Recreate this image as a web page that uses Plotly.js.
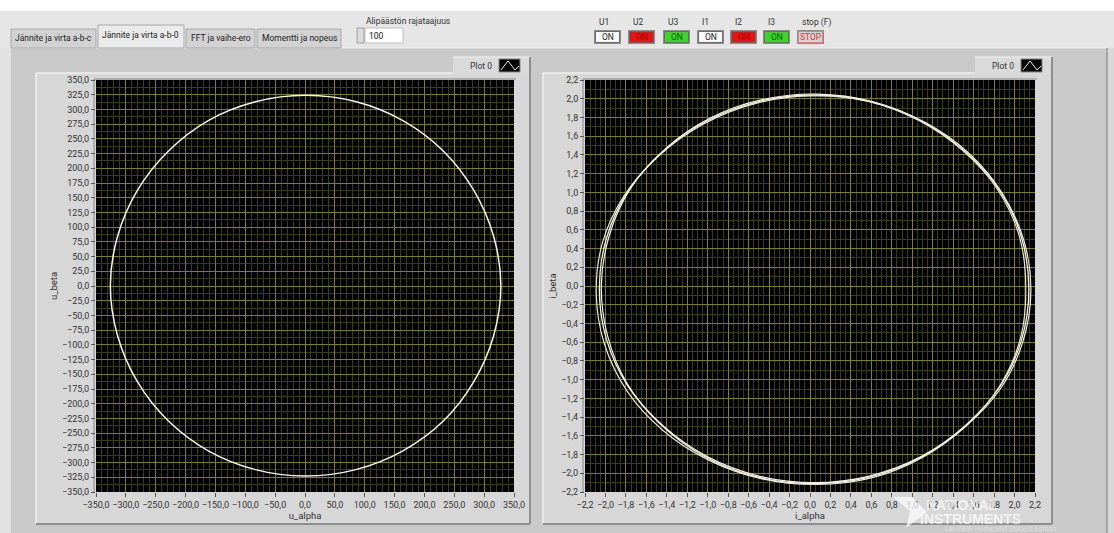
<!DOCTYPE html>
<html>
<head>
<meta charset="utf-8">
<script src="https://cdn.plot.ly/plotly-3.0.1.min.js"></script>
<style>
html,body{margin:0;padding:0;background:#c9c9c9;}
#chart{width:1114px;height:533px;}
</style>
</head>
<body>
<div id="chart"></div>
<script>
// ---------- DATA ----------
// Left graph: u_alpha / u_beta (one closed loop)
var u_alpha = [328, 316, 283, 232, 164, 86, 1, -83, -162, -229, -281, -314, -326, -314, -281, -229, -162, -83, 1, 85, 164, 232, 283, 316, 328];
var u_beta  = [0, 84, 162, 229, 281, 313, 324, 313, 281, 229, 162, 84, 0, -84, -162, -229, -280, -312, -323, -312, -280, -229, -162, -84, 0];

// Right graph: i_alpha / i_beta (several slightly different loops)
var i_alpha_1 = [2.14, 2.07, 1.86, 1.52, 1.09, 0.58, 0.04, -0.50, -1.01, -1.44, -1.78, -1.99, -2.06, -1.99, -1.78, -1.44, -1.01, -0.50, 0.04, 0.58, 1.09, 1.52, 1.86, 2.07, 2.14];
var i_beta_1  = [-0.03, 0.51, 1.01, 1.43, 1.76, 1.97, 2.04, 1.97, 1.76, 1.43, 1.01, 0.51, -0.03, -0.57, -1.07, -1.49, -1.82, -2.03, -2.10, -2.03, -1.82, -1.49, -1.07, -0.57, -0.03];
var i_alpha_2 = [2.11, 2.05, 1.84, 1.50, 1.06, 0.55, 0.01, -0.53, -1.04, -1.48, -1.82, -2.03, -2.09, -2.01, -1.79, -1.44, -0.99, -0.47, 0.07, 0.60, 1.10, 1.53, 1.86, 2.06, 2.11];
var i_beta_2  = [-0.02, 0.52, 1.02, 1.44, 1.77, 1.98, 2.03, 1.95, 1.73, 1.39, 0.96, 0.46, -0.08, -0.62, -1.12, -1.54, -1.86, -2.06, -2.12, -2.05, -1.83, -1.49, -1.06, -0.55, -0.02];
var i_alpha_3 = [2.16, 2.09, 1.88, 1.55, 1.12, 0.61, 0.07, -0.47, -0.98, -1.41, -1.75, -1.96, -2.04, -1.98, -1.79, -1.47, -1.05, -0.55, 0.00, 0.55, 1.07, 1.51, 1.86, 2.08, 2.16];
var i_beta_3  = [-0.05, 0.49, 0.99, 1.42, 1.75, 1.97, 2.05, 1.99, 1.79, 1.47, 1.05, 0.55, 0.01, -0.53, -1.04, -1.47, -1.81, -2.03, -2.11, -2.05, -1.84, -1.51, -1.10, -0.60, -0.05];

// UI texts
var tabLabels = ["Jännite ja virta a-b-c", "Jännite ja virta a-b-0", "FFT ja vaihe-ero", "Momentti ja nopeus"];
var buttonLabels = ["U1", "U2", "U3", "I1", "I2", "I3", "stop (F)"];
var buttonTexts = ["ON", "ON", "ON", "ON", "ON", "ON", "STOP"];
var filterLabel = "Alipäästön rajataajuus";
var filterValue = "100";
var legendName = "Plot 0";
var watermark = ["NATIONAL", "INSTRUMENTS", "LabVIEW Home and Student Edition"];

// ---------- LAYOUT HELPERS ----------
var W = 1114, H = 533;
var FONT = 'Roboto, Noto Sans, sans-serif';
function px(x){return x / W;}
function py(y){return 1 - y / H;}
var shapes = [], annotations = [];
function rect(x0, y0, x1, y1, fill, lc, lw){
  shapes.push({type:'rect', xref:'paper', yref:'paper', x0:px(x0), x1:px(x1), y0:py(y1), y1:py(y0),
    fillcolor:fill, line:{color:lc || fill, width: lw === undefined ? (lc ? 1 : 0) : lw}, layer:'below'});
}
function seg(x0, y0, x1, y1, c, w, layer){
  shapes.push({type:'line', xref:'paper', yref:'paper', x0:px(x0), x1:px(x1), y0:py(y0), y1:py(y1),
    line:{color:c, width:w || 1}, layer: layer || 'below'});
}
function text(x, y, t, size, color, anchor, fam){
  annotations.push({xref:'paper', yref:'paper', x:px(x), y:py(y), text:t, showarrow:false,
    xanchor:anchor || 'center', yanchor:'middle',
    font:{family:fam || FONT, size:size || 10, color:color || '#333'}});
}

// background regions
rect(0, 0, 1114, 11, '#ffffff');
rect(0, 11, 1114, 48, '#e6e6e6');
rect(0, 48, 11, 533, '#e2e2e2');
rect(11, 48, 1107, 533, '#c9c9c9');
rect(1107, 48, 1114, 533, '#d8d8d8');
seg(11, 48, 1107, 48, '#f0f0f0', 1);
seg(1107, 48, 1107, 533, '#9a9a9a', 1.5);

// tabs
var tabX = [10, 97, 185, 256, 342];
for (var i = 0; i < tabLabels.length; i++){
  var sel = (i === 1);
  rect(tabX[i] + 1, sel ? 25 : 29, tabX[i + 1] - 1, 48, sel ? '#ebebeb' : '#d2d2d2', '#a8a8a8', 1);
  text((tabX[i] + tabX[i + 1]) / 2, sel ? 35 : 38, tabLabels[i], 8.5, '#222');
}

// filter control
text(408, 21, filterLabel, 8.5, '#333');
rect(365, 28, 403, 43, '#ffffff', '#c0c0c0', 1);
rect(357, 28, 364, 43, '#dcdcdc', '#a0a0a0', 1);
text(367, 36, filterValue, 8.5, '#111', 'left');

// boolean buttons
var btnX = [594, 628, 663, 697, 730, 763, 797];
var btnFill = ['#f8f8f8', '#e51414', '#3bd62a', '#f8f8f8', '#e51414', '#3bd62a', '#d4d4d4'];
var btnTxtColor = ['#222', '#a00000', '#0b5a05', '#222', '#a00000', '#0b5a05', '#e03030'];
for (var b = 0; b < buttonLabels.length; b++){
  var x0 = btnX[b];
  text(x0 + 3, 22, buttonLabels[b], 8.5, '#333', 'left');
  rect(x0, 30, x0 + 27, 44, '#8c8c8c');
  rect(x0 + 1.5, 31.5, x0 + 25.5, 42.5, btnFill[b], b === 6 ? '#e08080' : '#6a6a6a', 1);
  text(x0 + 13.5, 37, buttonTexts[b], 8.5, btnTxtColor[b]);
}

// chart panels
function panel(x0, x1, plotX0, plotX1, legX0, legX1){
  rect(x0, 73, x1, 524, '#d7d7d7');
  seg(x0, 73, x1, 73, '#efefef', 1.5);
  seg(x0, 73, x0, 524, '#efefef', 1.5);
  seg(x1, 73, x1, 524, '#8e8e8e', 2);
  seg(x0, 524, x1, 524, '#8e8e8e', 2);
  // legend box
  rect(legX0, 57, legX1, 74, '#dadada');
  seg(legX0, 57, legX1, 57, '#f2f2f2', 1);
  seg(legX1, 57, legX1, 74, '#8e8e8e', 2);
  text(legX0 + 28, 66, legendName, 8.5, '#333');
  rect(legX1 - 31, 59, legX1 - 10, 72, '#050505', '#888', 1);
  shapes.push({type:'path', xref:'paper', yref:'paper', layer:'above',
    path:'M ' + px(legX1 - 29) + ',' + py(70) + ' L ' + px(legX1 - 22) + ',' + py(61) +
         ' L ' + px(legX1 - 15) + ',' + py(70) + ' L ' + px(legX1 - 11) + ',' + py(66),
    line:{color:'#e8e8e8', width:1}});
  // black plot background with bevel
  seg(plotX0 - 2, 79, plotX1 + 2, 79, '#a0a0a0', 1.5);
  seg(plotX0 - 2, 79, plotX0 - 2, 493, '#a0a0a0', 1.5);
  rect(plotX0, 80, plotX1, 492, '#000000');
}
panel(36, 530, 96, 514, 453, 530);
panel(543, 1052, 585, 1035, 975, 1052);

// watermark (semi-transparent, lying over the lower right corner as in the screenshot)
annotations.push({xref:'paper', yref:'paper', x:px(962), y:py(505), xanchor:'center', yanchor:'middle', text:'<b>' + watermark[0] + '</b>', showarrow:false,
  font:{family:'Liberation Sans, Arial, sans-serif', size:14, color:'rgba(255,255,255,0.7)'}});
annotations.push({xref:'paper', yref:'paper', x:px(970), y:py(519), xanchor:'center', yanchor:'middle', text:'<b>' + watermark[1] + '</b>', showarrow:false,
  font:{family:'Liberation Sans, Arial, sans-serif', size:14, color:'rgba(255,255,255,0.7)'}});
annotations.push({xref:'paper', yref:'paper', x:px(1000), y:py(529), xanchor:'center', yanchor:'middle', text:watermark[2], showarrow:false,
  font:{family:FONT, size:7, color:'rgba(255,255,255,0.45)'}});
shapes.push({type:'path', xref:'paper', yref:'paper', layer:'above',
  path:'M ' + px(893) + ',' + py(497) + ' L ' + px(912) + ',' + py(497) + ' L ' + px(927) + ',' + py(512) +
       ' L ' + px(906) + ',' + py(528) + ' L ' + px(910) + ',' + py(511) + ' Z',
  fillcolor:'rgba(255,255,255,0.7)', line:{width:0}});

// ---------- TRACES ----------
var traces = [
  {x:u_alpha, y:u_beta, mode:'lines', line:{color:'#f6f4e8', width:1.5, shape:'spline', smoothing:1}, xaxis:'x', yaxis:'y', name:legendName},
  {x:i_alpha_1, y:i_beta_1, mode:'lines', line:{color:'#f4f2e4', width:1.3, shape:'spline', smoothing:1}, xaxis:'x2', yaxis:'y2', name:legendName},
  {x:i_alpha_2, y:i_beta_2, mode:'lines', line:{color:'#e8e6d6', width:1.2, shape:'spline', smoothing:1}, xaxis:'x2', yaxis:'y2', name:legendName},
  {x:i_alpha_3, y:i_beta_3, mode:'lines', line:{color:'#f4f2e4', width:1.2, shape:'spline', smoothing:1}, xaxis:'x2', yaxis:'y2', name:legendName}
];

var tickFont = {family:FONT, size:9, color:'#333'};
var titleFont = {family:FONT, size:9.5, color:'#333'};
var majorGrid = '#7e7e2a', minorGrid = '#3c3c16';
function axis(domain, range, dtick, minorDtick, anchor, title, standoff){
  return {domain:domain, range:range, dtick:dtick, tick0:0, tickformat:'.1f', anchor:anchor, tickangle:0,
    showgrid:true, gridcolor:majorGrid, gridwidth:1, zeroline:false, showline:false,
    ticks:'outside', ticklen:4, tickcolor:'#555', tickfont:tickFont, automargin:false,
    minor:{dtick:minorDtick, showgrid:true, gridcolor:minorGrid, gridwidth:1},
    title:{text:title, font:titleFont, standoff:standoff}, fixedrange:true};
}
var yDom = [py(492), py(80)];
var layout = {
  width:W, height:H, margin:{l:0, r:0, t:0, b:0},
  paper_bgcolor:'rgba(0,0,0,0)', plot_bgcolor:'rgba(0,0,0,0)',
  separators:', ', showlegend:false,
  xaxis: axis([px(96), px(514)], [-350, 350], 50, 10, 'y', 'u_alpha', 2),
  yaxis: axis(yDom, [-350, 350], 25, 12.5, 'x', 'u_beta', 2),
  xaxis2: axis([px(585), px(1035)], [-2.2, 2.2], 0.2, 0.05, 'y2', 'i_alpha', 2),
  yaxis2: axis(yDom, [-2.2, 2.2], 0.2, 0.1, 'x2', 'i_beta', 2),
  shapes:shapes, annotations:annotations
};
Plotly.newPlot('chart', traces, layout, {displayModeBar:false, staticPlot:true});
</script>
</body>
</html>
